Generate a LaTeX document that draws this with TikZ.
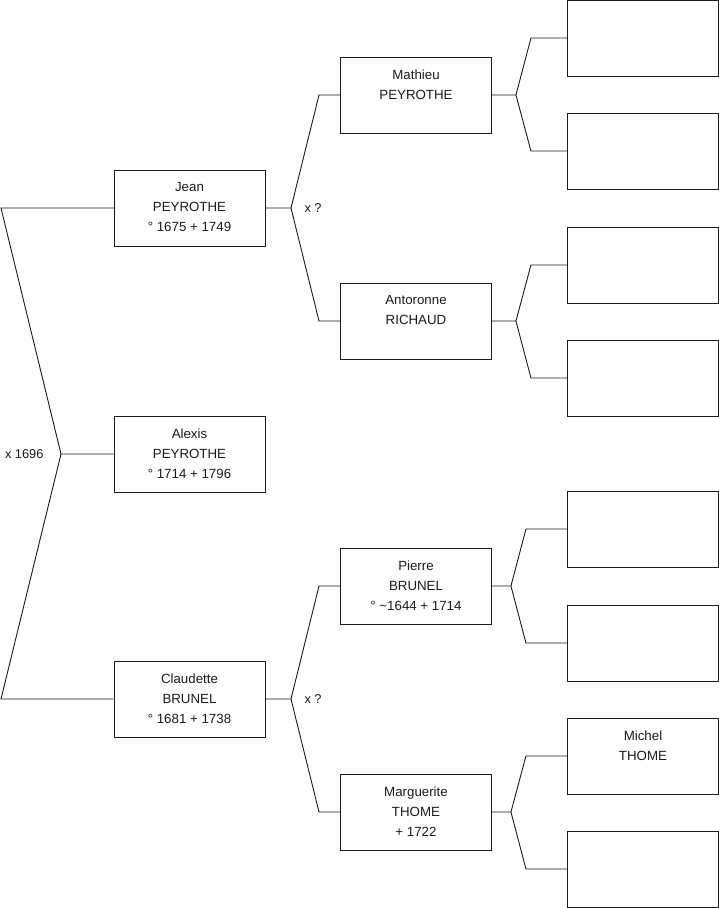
\documentclass[tikz,border=0pt]{standalone}
\usepackage{fontspec}
\setmainfont{Liberation Sans}
\usepackage{xcolor}
\usetikzlibrary{positioning}
\definecolor{inkK}{HTML}{1A1A1A}

\tikzset{
  person/.style={draw=inkK, line width=0.9pt, inner sep=0pt,
    minimum width=151pt, minimum height=76pt,
    font=\fontsize{13.3}{20}\selectfont, text=inkK},
  link/.style={draw=inkK, line width=0.9pt},
  union/.style={font=\fontsize{12.8}{15}\selectfont, text=inkK}
}
\newcommand{\ptext}[1]{\parbox[c][76pt][t]{151pt}{\centering\vspace*{12.5pt}#1}}

\begin{document}
\begin{tikzpicture}[x=1pt, y=-1pt]
  \useasboundingbox (0,0) rectangle (719,908);

  % generation 1 and 2
  \node[person] (alexis) at (189.5,454) {\ptext{Alexis\\PEYROTHE\\° 1714 + 1796}};
  \node[person] (jean) at (189.5,208) {\ptext{Jean\\PEYROTHE\\° 1675 + 1749}};
  \node[person] (claudette) at (189.5,699) {\ptext{Claudette\\BRUNEL\\° 1681 + 1738}};

  % generation 3
  \node[person] (mathieu) at (416,95) {\ptext{Mathieu\\PEYROTHE}};
  \node[person] (antoronne) at (416,321) {\ptext{Antoronne\\RICHAUD}};
  \node[person] (pierre) at (416,586) {\ptext{Pierre\\BRUNEL\\° \textasciitilde1644 + 1714}};
  \node[person] (marguerite) at (416,812) {\ptext{Marguerite\\THOME\\+ 1722}};

  % generation 4
  \node[person] (mathieu1) at (643,38) {};
  \node[person] (mathieu2) at (643,151) {};
  \node[person] (antoronne1) at (643,265) {};
  \node[person] (antoronne2) at (643,378) {};
  \node[person] (pierre1) at (643,529) {};
  \node[person] (pierre2) at (643,643) {};
  \node[person] (michel) at (643,756) {\ptext{Michel\\THOME}};
  \node[person] (marguerite2) at (643,869) {};

  % parents of Alexis
  \coordinate (ax) at (61,454);
  \coordinate (aj) at (1,208);
  \coordinate (ac) at (1,699);
  \draw[link] (alexis.west) -- (ax) -- (aj) -- (jean.west);
  \draw[link] (ax) -- (ac) -- (claudette.west);
  \node[union, anchor=east] (ux) at (ax) [xshift=-14pt] {x 1696};

  % parents of Jean
  \coordinate (jx) at (291,208);
  \coordinate (jm) at (319,95);
  \coordinate (ja) at (319,321);
  \draw[link] (jean.east) -- (jx) -- (jm) -- (mathieu.west);
  \draw[link] (jx) -- (ja) -- (antoronne.west);
  \node[union, anchor=west] (uj) at (jx) [xshift=10pt] {x ?};

  % parents of Claudette
  \coordinate (cx) at (291,699);
  \coordinate (cp) at (319,586);
  \coordinate (cm) at (319,812);
  \draw[link] (claudette.east) -- (cx) -- (cp) -- (pierre.west);
  \draw[link] (cx) -- (cm) -- (marguerite.west);
  \node[union, anchor=west] (uc) at (cx) [xshift=10pt] {x ?};

  % great-grandparents
  \foreach \kid/\dx/\up/\down in {mathieu/24/mathieu1/mathieu2,
      antoronne/24/antoronne1/antoronne2,
      pierre/19/pierre1/pierre2,
      marguerite/19/michel/marguerite2} {
    \coordinate (\kid x) at ([xshift=\dx pt]\kid.east);
    \draw[link] (\kid.east) -- (\kid x) -- ([xshift=15pt]\kid x |- \up.west) -- (\up.west);
    \draw[link] (\kid x) -- ([xshift=15pt]\kid x |- \down.west) -- (\down.west);
  }
\end{tikzpicture}
\end{document}
